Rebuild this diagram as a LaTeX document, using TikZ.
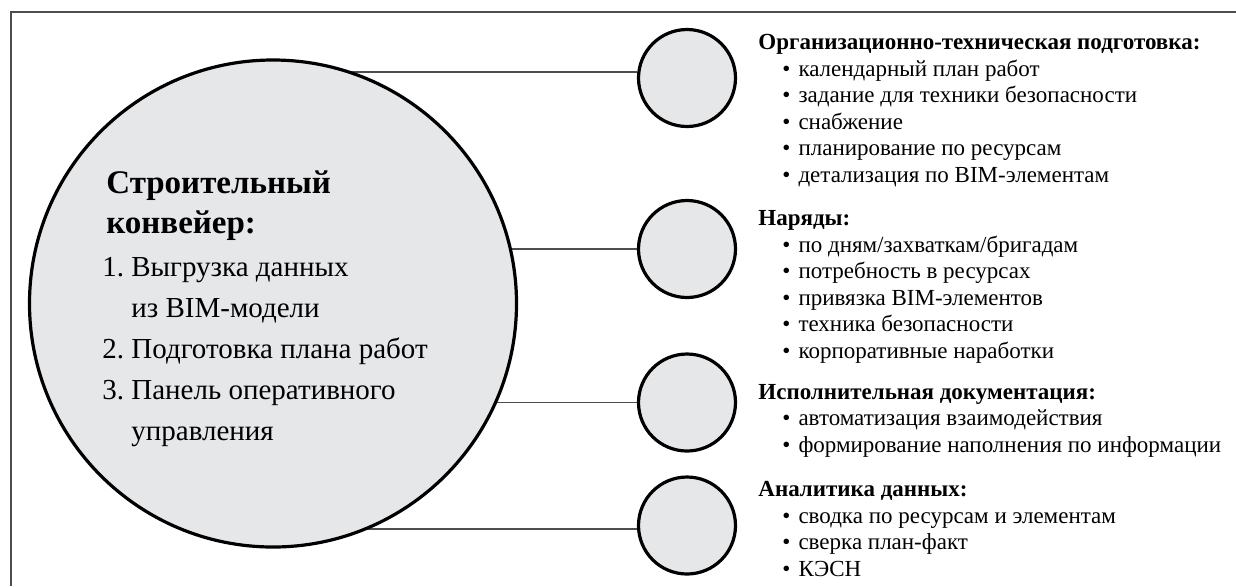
\documentclass[tikz,border=0pt]{standalone}
\usepackage{fontspec}
\setmainfont{Liberation Serif}
\usetikzlibrary{backgrounds}
\definecolor{discgray}{HTML}{E6E7E9}
\definecolor{linkgray}{HTML}{4D4D4D}
\newcommand\listdot{\hspace*{12pt}\textbullet\hspace{0.35em}}

\begin{document}
\begin{tikzpicture}[x=0.5pt,y=-0.5pt,
        bigdisc/.style={circle,draw,line width=1.6pt,fill=discgray,minimum size=243.5pt,inner sep=0pt},
        smalldisc/.style={circle,draw,line width=1.6pt,fill=discgray,minimum size=48.5pt,inner sep=0pt},
        link/.style={draw=linkgray,line width=0.8pt},
        rim/.style={draw=linkgray,line width=1pt},
        block/.style={anchor=base west,align=left,inner sep=0pt,font=\fontsize{11.5}{13.25}\selectfont}]

    \useasboundingbox (0,0) rectangle (1236,586);
    \draw[rim] (11,586) -- (11,12) -- (1236,12);

    % discs
    \node[bigdisc] (big) at (273,303.5) {};
    \node[smalldisc] (c1) at (687,78) {};
    \node[smalldisc] (c2) at (687,249) {};
    \node[smalldisc] (c3) at (687,402.5) {};
    \node[smalldisc] (c4) at (687,525.5) {};

    \begin{scope}[on background layer]
        \foreach \c/\dy in {c1/3pt,c2/0pt,c3/0pt,c4/-1.75pt}
            \draw[link] ([yshift=\dy]\c.west) -- ([yshift=\dy]\c.west -| big.center);
    \end{scope}

    % text in the big disc (base = last line)
    \node[anchor=base west,align=left,inner sep=0pt,font=\fontsize{16.5}{20}\selectfont\bfseries] (title) at (106,233)
        {Строительный\\конвейер:};
    \node[anchor=base west,align=left,inner sep=0pt,font=\fontsize{14.5}{20.5}\selectfont] (steps) at (102,440)
        {1.\ Выгрузка данных\\\hphantom{1.\ }из BIM-модели\\2.\ Подготовка плана работ\\3.\ Панель оперативного\\\hphantom{3.\ }управления};

    % blocks on the right
    \node[block] (org) at (758,182)
        {\textbf{Организационно-техническая подготовка:}\\
        \listdot календарный план работ\\
        \listdot задание для техники безопасности\\
        \listdot снабжение\\
        \listdot планирование по ресурсам\\
        \listdot детализация по BIM-элементам};
    \node[block] (orders) at (758,358)
        {\textbf{Наряды:}\\
        \listdot по дням/захваткам/бригадам\\
        \listdot потребность в ресурсах\\
        \listdot привязка BIM-элементов\\
        \listdot техника безопасности\\
        \listdot корпоративные наработки};
    \node[block] (docs) at (758,452)
        {\textbf{Исполнительная документация:}\\
        \listdot автоматизация взаимодействия\\
        \listdot формирование наполнения по информации};
    \node[block] (stats) at (758,576)
        {\textbf{Аналитика данных:}\\
        \listdot сводка по ресурсам и элементам\\
        \listdot сверка план-факт\\
        \listdot КЭСН};
\end{tikzpicture}
\end{document}
